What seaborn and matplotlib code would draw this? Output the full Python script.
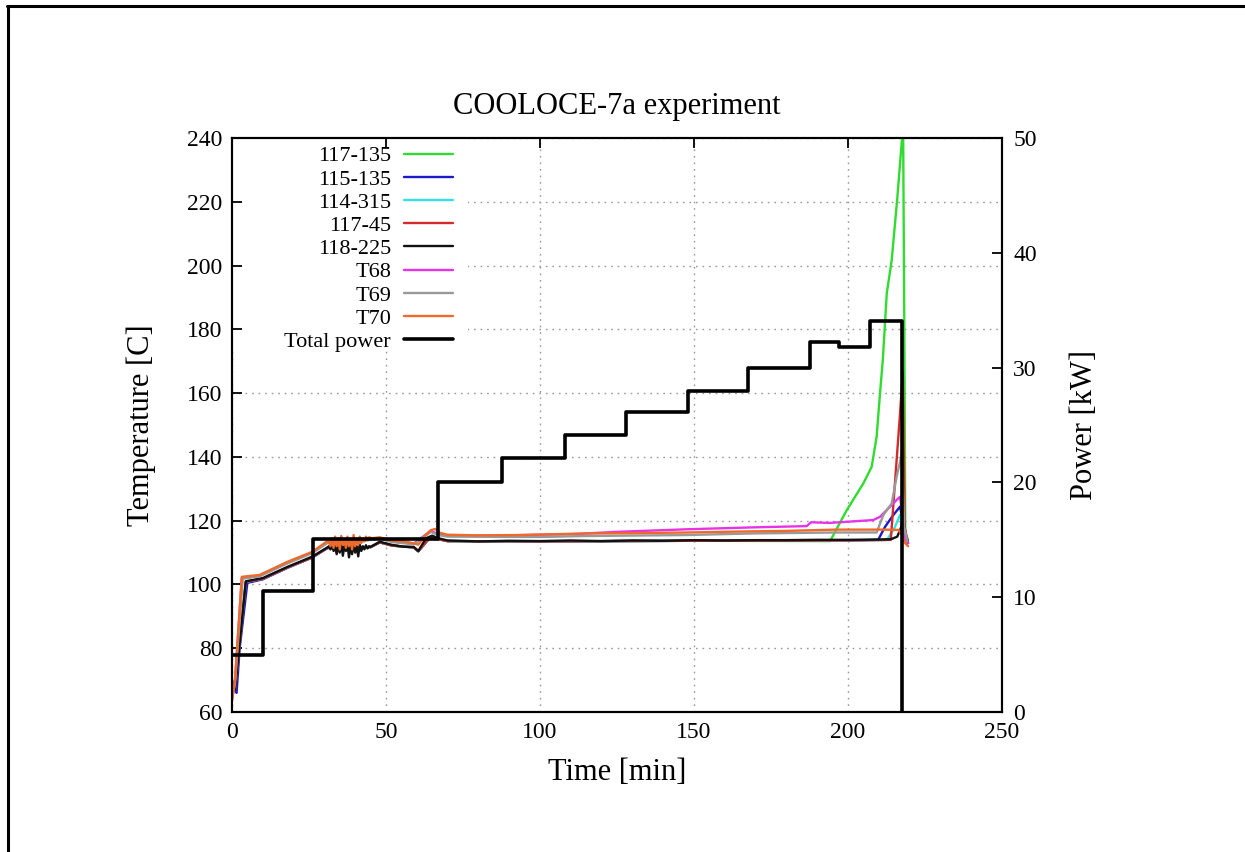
import matplotlib
matplotlib.use("Agg")
import matplotlib.pyplot as plt
import seaborn as sns
from matplotlib.lines import Line2D
from matplotlib.patches import Rectangle

# ---- data (time [min], temperature [C]) ----
# oscillating part between ~31 and ~45 min
t_osc = [31.5, 32, 32.5, 33, 33.5, 34, 34.5, 35, 35.5, 36, 36.5, 37, 37.5, 38,
         38.5, 39, 39.5, 40, 40.5, 41, 41.5, 42, 42.5, 43, 43.5, 44, 44.5]
T_osc_118_225 = [112, 111, 112.5, 110.5, 112, 109.5, 112.5, 110, 113, 109, 112,
                 110.5, 112.5, 108.5, 112, 109.5, 113, 110, 112, 108.8, 112.5,
                 110.5, 112, 111, 112.3, 111.3, 112]
T_osc_T70 = [113.5, 112, 114.5, 111.5, 115, 112, 114.5, 111, 115.2, 112.5, 114,
             111.5, 115, 112, 114.5, 111, 115.5, 112, 114.5, 112.5, 115, 113,
             114.5, 113.5, 115, 114, 114.8]

t_117_135 = [0, 1, 4.5, 10, 18, 26, 31, 38, 45, 48, 52, 59, 60.5, 64, 67, 70, 100,
             150, 194.2, 199.6, 205, 207.7, 209.3, 210.4, 211.3, 212.6, 214.2, 216,
             217.9, 218.3, 218.6, 219.5]
T_117_135 = [69, 67, 100.8, 101.8, 105.3, 108.5, 111.5, 111.5, 111.7, 113.2, 112.2,
             111.6, 110.4, 114.4, 114.3, 113.6, 113.5, 113.7, 113.6, 123.3, 131.7,
             136.9, 146.3, 159.9, 170.3, 191.3, 201.7, 221, 244, 180, 116, 114]

t_115_135 = [0, 1.5, 2.5, 5, 10, 18, 26, 31, 38, 45, 48, 52, 59, 60.5, 64, 67, 70,
             100, 150, 200, 209.8, 212, 214.5, 216.9, 217.8, 218.6, 219.5]
T_115_135 = [68, 66, 80, 100.5, 101.6, 105.2, 108.4, 111.4, 111.4, 111.7, 113.2,
             112.2, 111.6, 110.4, 114.4, 114.2, 113.6, 113.5, 113.7, 113.8, 114,
             118, 121.5, 124.4, 120, 114.5, 113]

t_114_315 = [0, 1, 4.5, 10, 18, 26, 31, 38, 45, 48, 52, 59, 60.5, 64, 67, 70, 100,
             150, 200, 212.6, 215, 216.9, 217.8, 218.6, 219.5]
T_114_315 = [69, 67, 100.8, 101.8, 105.3, 108.5, 111.5, 111.5, 111.7, 113.2, 112.2,
             111.6, 110.4, 114.4, 114.2, 113.6, 113.5, 113.7, 113.8, 113.9, 117.5,
             121.8, 119, 114, 113]

t_117_45 = [0, 1, 4.5, 10, 18, 26, 31, 38, 45, 48, 52, 59, 60.5, 64, 67, 70, 100,
            150, 200, 213.9, 215.8, 216.9, 217.8, 218.4, 219.5]
T_117_45 = [69, 67, 100.8, 101.8, 105.3, 108.5, 111.5, 111.5, 111.7, 113.2, 112.2,
            111.6, 110.4, 114.4, 114.2, 113.6, 113.5, 113.7, 113.8, 114, 139,
            153.6, 166.5, 118, 113]

t_118_225 = ([0, 1, 4.5, 10, 18, 26, 31] + t_osc +
             [45, 48, 52, 56, 59, 60.5, 63, 65, 67, 70, 80, 90, 100, 110, 120, 130,
              140, 150, 160, 170, 180, 190, 200, 210, 214, 216, 217.3, 217.9, 218.6,
              219.5])
T_118_225 = ([70, 67, 101, 102, 105.5, 108.7, 111.6] + T_osc_118_225 +
             [111.8, 113.4, 112.4, 111.8, 111.8, 110.5, 114.5, 115.3, 114.5, 113.8,
              113.5, 113.7, 113.6, 113.8, 113.6, 113.8, 113.7, 113.9, 113.8, 113.9,
              113.9, 114, 114, 114.1, 114.2, 115, 118, 122, 116, 113])

t_T68 = [0, 1, 3.2, 9, 18, 26, 31, 38, 45, 48, 52, 59, 64.5, 67, 70, 90, 111, 125,
         147.6, 169, 186.6, 188, 194, 208.2, 210.4, 215.8, 216.9, 217.8, 218.6, 219.5]
T_T68 = [64, 70, 102, 102.7, 106.8, 110, 113.2, 113, 114.3, 114.6, 113.5, 112.8,
         116.8, 115.8, 115.3, 115.4, 115.8, 116.5, 117.3, 117.9, 118.3, 119.5, 119.3,
         120.2, 121.2, 126.5, 127.5, 121, 114, 113]

t_T69 = [0, 1, 3.5, 9, 18, 26, 31, 38, 45, 48, 52, 59, 64.5, 67, 70, 100, 115, 147.6,
         169, 196, 209.3, 211.5, 214.2, 215.8, 217.4, 218.3, 219.3]
T_T69 = [64, 69, 101.8, 102.6, 106.6, 109.8, 113, 112.8, 114, 114.4, 113.3, 112.6,
         116.5, 115.5, 115, 114.9, 115.2, 115.5, 116, 116.3, 116.3, 121.8, 125.4,
         133.8, 140.5, 118, 113.5]

t_T70 = ([0, 1, 3.2, 9, 18, 26, 30.7] + t_osc +
         [45.5, 48, 52, 56, 59, 60.5, 62.5, 64.5, 66, 67.5, 70, 80, 93, 115, 130,
          148, 165, 180, 196, 205, 212, 216.4, 217.5, 218.5, 219.5])
T_T70 = ([63.5, 70, 102.4, 103, 107.1, 110.2, 113.4] + T_osc_T70 +
         [114.5, 114.8, 113.7, 113.5, 112.9, 112.5, 115, 117, 117.4, 116.2, 115.6,
          115.4, 115.5, 116, 116.1, 116.3, 116.6, 116.8, 117.2, 117.2, 117.2, 117.1,
          115.5, 113, 112])

# total heating power [kW], step changes (value holds until next time)
t_power = [0, 10.2, 26.4, 66.8, 87.6, 108, 127.9, 148, 167.6, 187.8, 197, 207.2, 217.5]
p_power = [5, 10.55, 15.1, 20, 22.1, 24.1, 26.1, 28, 30, 32.2, 31.8, 34.1, 0]

series = [
    ("117-135", t_117_135, T_117_135, "#2fdc2f"),
    ("115-135", t_115_135, T_115_135, "#1a1acc"),
    ("114-315", t_114_315, T_114_315, "#33e3e3"),
    ("117-45", t_117_45, T_117_45, "#d42a2a"),
    ("118-225", t_118_225, T_118_225, "#111111"),
    ("T68", t_T68, T_T68, "#e633e6"),
    ("T69", t_T69, T_T69, "#999999"),
    ("T70", t_T70, T_T70, "#ee6a2a"),
]

sns.set_theme(style="white", rc={"text.color": "black", "axes.labelcolor": "black"})
plt.rcParams["font.family"] = ["Liberation Serif", "DejaVu Serif"]

fig = plt.figure(figsize=(12.45, 8.52), dpi=100)
rect = [0.1863, 0.1643, 0.6185, 0.6737]

# background axes only for the dotted grid (legend area blanked like gnuplot)
axg = fig.add_axes(rect, zorder=-1)
axg.set_xlim(0, 250)
axg.set_ylim(60, 240)
axg.set_xticks(range(0, 251, 50))
axg.set_yticks(range(60, 241, 20))
axg.grid(True, color="#999999", linestyle=(0, (1.2, 3.5)), linewidth=1)
axg.tick_params(length=0, labelleft=False, labelbottom=False)
for sp in axg.spines.values():
    sp.set_visible(False)
axg.add_patch(Rectangle((0, 0.631), 0.306, 0.369, transform=axg.transAxes,
                        facecolor="white", edgecolor="none", zorder=1))

ax = fig.add_axes(rect)
ax.patch.set_visible(False)

for name, tt, TT, col in series:
    sns.lineplot(x=tt, y=TT, ax=ax, color=col, linewidth=1.7, sort=False,
                 estimator=None, legend=False, label=name)

ax.set_xlim(0, 250)
ax.set_ylim(60, 240)
ax.set_xticks(range(0, 251, 50))
ax.set_yticks(range(60, 241, 20))
ax.grid(False)
ax.tick_params(direction="in", length=7, width=1.3, top=True, right=False,
               labelsize=17, pad=7, colors="black")
ax.set_xlabel("Time [min]", fontsize=22, labelpad=11)
ax.set_ylabel("Temperature [C]", fontsize=22, labelpad=22)
ax.set_title("COOLOCE-7a experiment", fontsize=22, pad=17)

ax2 = ax.twinx()
sns.lineplot(x=t_power, y=p_power, ax=ax2, color="black", linewidth=2.6,
             drawstyle="steps-post", sort=False, estimator=None, legend=False,
             label="Total power")
ax2.set_ylim(0, 50)
ax2.set_yticks(range(0, 51, 10))
ax2.grid(False)
ax2.tick_params(direction="in", length=7, width=1.3, labelsize=17, pad=8,
                colors="black")
ax2.set_ylabel("Power [kW]", fontsize=22, labelpad=24)

for a in (ax, ax2):
    for sp in a.spines.values():
        sp.set_color("black")
        sp.set_linewidth(1.5)

h1, l1 = ax.get_legend_handles_labels()
h2, l2 = ax2.get_legend_handles_labels()
leg = ax2.legend(h1 + h2, l1 + l2, loc="upper left", bbox_to_anchor=(0.058, 1.0),
                 markerfirst=False, fontsize=16, frameon=False,
                 handlelength=2.2, handletextpad=0.6, labelspacing=0.12,
                 borderpad=0.25, borderaxespad=0.1)

# page border (top and left edge) as in the source image
fig.add_artist(Line2D([0.006, 1.0], [0.993, 0.993], color="black", linewidth=2.2))
fig.add_artist(Line2D([0.0063, 0.0063], [0.0, 0.993], color="black", linewidth=2.2))

fig.savefig("out.png", dpi=100)
